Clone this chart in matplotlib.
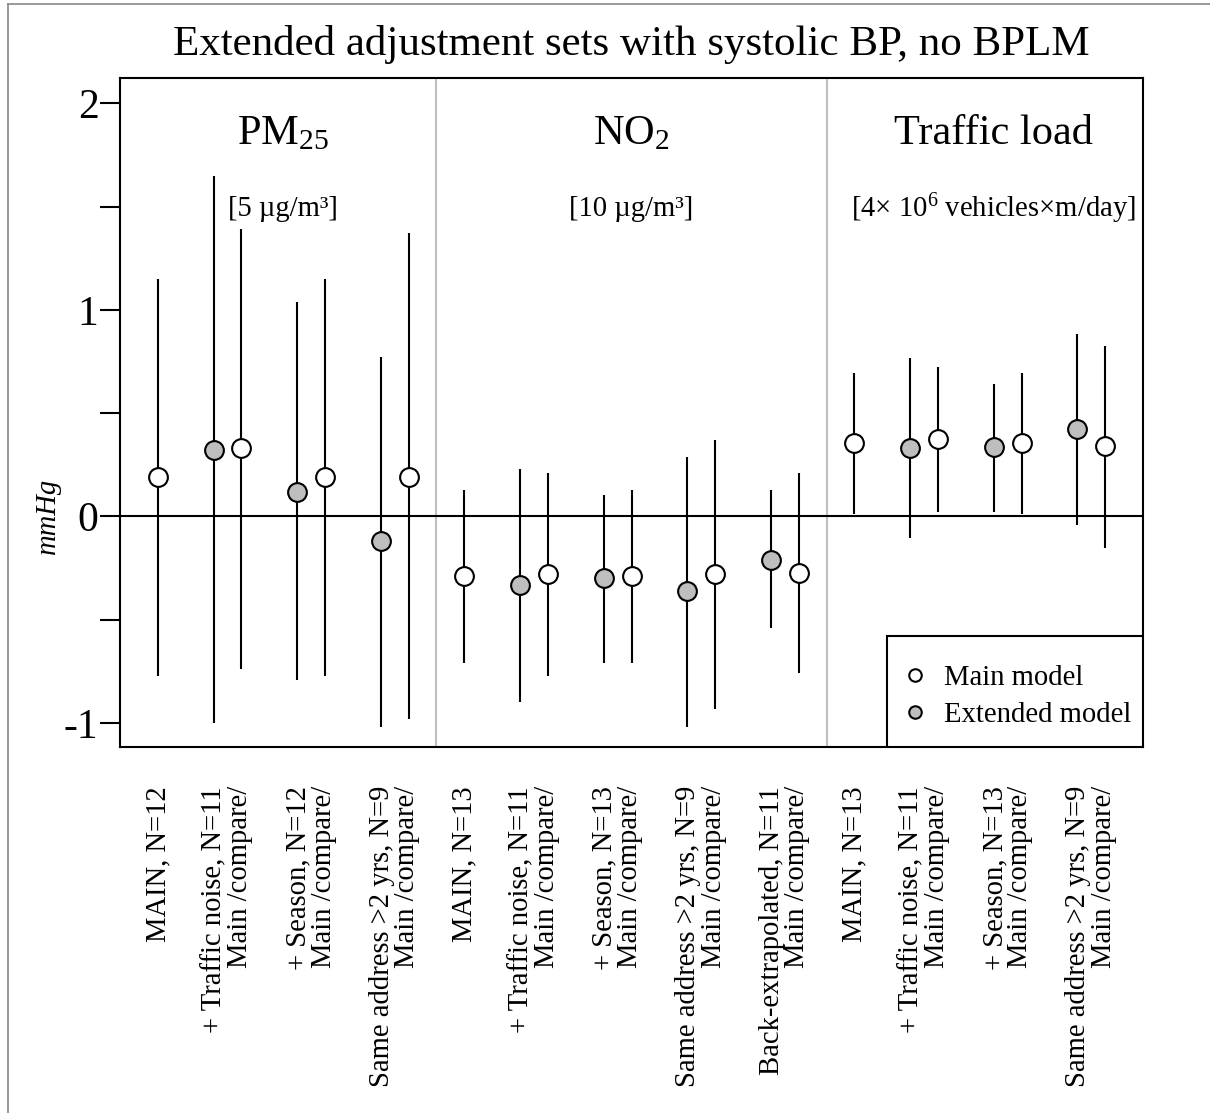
import matplotlib
matplotlib.use("Agg")
import matplotlib.pyplot as plt
from matplotlib.lines import Line2D
from matplotlib.patches import Rectangle
from matplotlib.transforms import blended_transform_factory
import numpy as np

plt.rcParams['font.family'] = ['Liberation Serif', 'DejaVu Serif']
plt.rcParams['mathtext.fontset'] = 'custom'
plt.rcParams['mathtext.rm'] = 'Liberation Serif'
plt.rcParams['mathtext.it'] = 'Liberation Serif:italic'

# ---------------- data ----------------
title = "Extended adjustment sets with systolic BP, no BPLM"
groups = ["PM$_{25}$", "NO$_2$", "Traffic load"]
units = ["[5 µg/m³]", "[10 µg/m³]", "[4× 10$^6$ vehicles×m/day]"]

# labels per group: first is MAIN, the rest are comparisons (extended + main)
labels_pm = ["MAIN, N=12", "+ Traffic noise, N=11\nMain /compare/",
             "+ Season, N=12\nMain /compare/", "Same address >2 yrs, N=9\nMain /compare/"]
labels_no2 = ["MAIN, N=13", "+ Traffic noise, N=11\nMain /compare/",
              "+ Season, N=13\nMain /compare/", "Same address >2 yrs, N=9\nMain /compare/",
              "Back-extrapolated, N=11\nMain /compare/"]
labels_tl = ["MAIN, N=13", "+ Traffic noise, N=11\nMain /compare/",
             "+ Season, N=13\nMain /compare/", "Same address >2 yrs, N=9\nMain /compare/"]

# main model estimates (MAIN, then main model in each comparison subset)
pm_main_est = [0.19, 0.33, 0.19, 0.19]
pm_main_lo = [-0.77, -0.74, -0.77, -0.98]
pm_main_hi = [1.15, 1.39, 1.15, 1.37]
# extended model estimates (one per comparison)
pm_ext_est = [0.32, 0.12, -0.12]
pm_ext_lo = [-1.00, -0.79, -1.02]
pm_ext_hi = [1.65, 1.04, 0.77]

no2_main_est = [-0.29, -0.28, -0.29, -0.28, -0.275]
no2_main_lo = [-0.71, -0.77, -0.71, -0.93, -0.76]
no2_main_hi = [0.13, 0.21, 0.13, 0.37, 0.21]
no2_ext_est = [-0.33, -0.30, -0.36, -0.21]
no2_ext_lo = [-0.90, -0.71, -1.02, -0.54]
no2_ext_hi = [0.23, 0.105, 0.29, 0.13]

tl_main_est = [0.355, 0.375, 0.355, 0.34]
tl_main_lo = [0.01, 0.02, 0.01, -0.155]
tl_main_hi = [0.695, 0.725, 0.695, 0.825]
tl_ext_est = [0.333, 0.334, 0.425]
tl_ext_lo = [-0.105, 0.02, -0.04]
tl_ext_hi = [0.765, 0.64, 0.885]

legend_labels = ["Main model", "Extended model"]
ylabel = "mmHg"
yticks_major = [-1, 0, 1, 2]
yticks_all = [-1, -0.5, 0, 0.5, 1, 1.5, 2]

group_data = [
    (labels_pm, pm_main_est, pm_main_lo, pm_main_hi, pm_ext_est, pm_ext_lo, pm_ext_hi),
    (labels_no2, no2_main_est, no2_main_lo, no2_main_hi, no2_ext_est, no2_ext_lo, no2_ext_hi),
    (labels_tl, tl_main_est, tl_main_lo, tl_main_hi, tl_ext_est, tl_ext_lo, tl_ext_hi),
]

# ---------------- figure ----------------
W, H = 1210, 1113
fig = plt.figure(figsize=(W / 100, H / 100), dpi=100)
ax = fig.add_axes([120 / W, 1 - 747 / H, (1143 - 120) / W, (747 - 78) / H])

lw = 1.5
ms = 13.5
main_face = "white"
ext_face = "#bebebe"

ax.axhline(0, color="black", lw=lw, zorder=1)

trans = blended_transform_factory(ax.transData, ax.transAxes)
pos = 0
sep_positions = []
for gi, (labs, m_est, m_lo, m_hi, e_est, e_lo, e_hi) in enumerate(group_data):
    xm = [pos]
    xe = []
    label_x = [pos]
    for k in range(len(e_est)):
        xe.append(pos + 2 + 3 * k)
        xm.append(pos + 3 + 3 * k)
        label_x.append(pos + 2.5 + 3 * k)
    end = xm[-1]
    ax.vlines(xm, m_lo, m_hi, color="black", lw=lw, zorder=2)
    ax.vlines(xe, e_lo, e_hi, color="black", lw=lw, zorder=2)
    ax.plot(xm, m_est, "o", ms=ms, mfc=main_face, mec="black", mew=1.5, zorder=3)
    ax.plot(xe, e_est, "o", ms=ms, mfc=ext_face, mec="black", mew=1.5, zorder=3)
    for lx, lab in zip(label_x, labs):
        ax.annotate(lab, xy=(lx, 0), xycoords=trans, xytext=(0, -28),
                    textcoords="offset points", rotation=90, ha="center", va="top",
                    multialignment="right", fontsize=20.6, linespacing=0.97,
                    annotation_clip=False)
    if gi < len(group_data) - 1:
        sep_positions.append(end + 1)
    pos = end + 2

for s in sep_positions:
    ax.axvline(s, color="#c0c0c0", lw=1.5, zorder=0)

header_x = [4.5, 17, 30]
for hx, g, u in zip(header_x, groups, units):
    ax.text(hx, 1.85, g, ha="center", va="center", fontsize=30.5)
    ax.text(hx, 1.49, u, ha="center", va="center", fontsize=20.6)

ax.set_xlim(-1.36, 35.36)
ax.set_ylim(-1.116, 2.122)
ax.set_xticks([])
ax.set_yticks(yticks_all)
ax.set_yticklabels([str(t) if t in yticks_major else "" for t in yticks_all])
ax.tick_params(axis="y", length=14.4, width=1.5, labelsize=30, pad=1)
for sp in ax.spines.values():
    sp.set_linewidth(1.5)

# legend (drawn as boxed key in the lower right corner)
ax_w, ax_h = 1143 - 120, 747 - 78
box_x0 = (887 - 120) / ax_w
box_h = (747 - 636) / ax_h
ax.add_patch(Rectangle((box_x0, 0), 1 - box_x0, box_h, transform=ax.transAxes,
                       facecolor="white", edgecolor="black", lw=1.5, zorder=5))
key_mx = (915 - 120) / ax_w
key_tx = (944 - 120) / ax_w
key_y = [(747 - 675) / ax_h, (747 - 712) / ax_h]
text_dy = 3 / ax_h
for ky, face, lab in zip(key_y, [main_face, ext_face], legend_labels):
    ax.plot([key_mx], [ky], "o", ms=9, mfc=face, mec="black", mew=1.5,
            transform=ax.transAxes, zorder=6, clip_on=False)
    ax.text(key_tx, ky - text_dy, lab, transform=ax.transAxes, ha="left", va="center",
            fontsize=20.6, zorder=6)

fig.text(631.5 / W, 1 - 44 / H, title, ha="center", va="center", fontsize=31)
fig.text(48 / W, 1 - 516 / H, ylabel, ha="center", va="center", rotation=90,
         fontsize=20.6, style="italic")

# figure border (top and left)
fig.add_artist(Line2D([8 / W, 1], [1 - 4 / H, 1 - 4 / H], color="#888888", lw=1.2,
                      transform=fig.transFigure))
fig.add_artist(Line2D([8 / W, 8 / W], [0, 1 - 4 / H], color="#888888", lw=1.2,
                      transform=fig.transFigure))

fig.savefig("out.png", dpi=100)
